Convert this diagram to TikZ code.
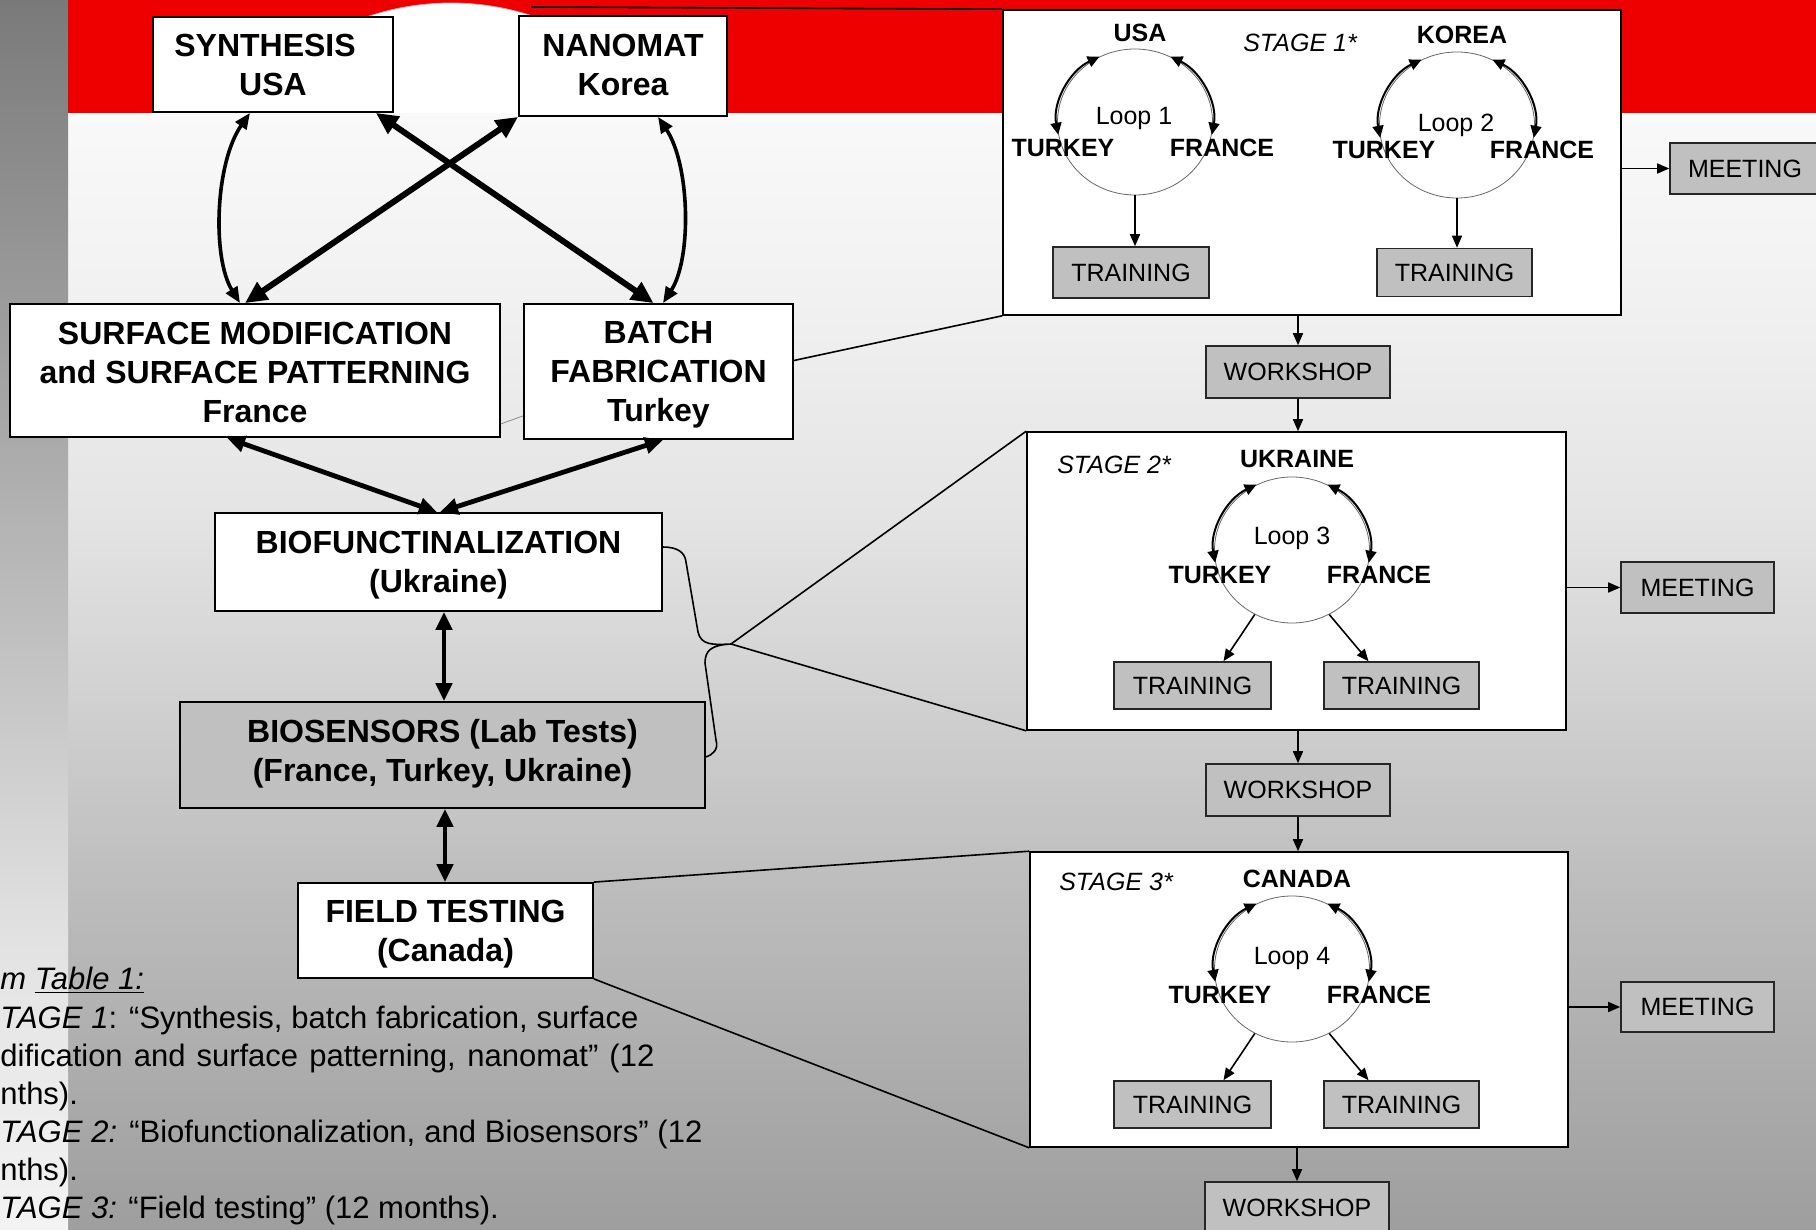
\documentclass[tikz,border=0pt]{standalone}
\usepackage{fontspec}
\setmainfont{Liberation Sans}
\usetikzlibrary{arrows.meta,calc,shapes.geometric}
\definecolor{bandred}{RGB}{238,0,0}
\definecolor{boxgray}{RGB}{192,192,192}
\pgfdeclareverticalshading{bgshade}{100bp}{color(0bp)=(black!38); color(25bp)=(black!38); color(40bp)=(black!26.3); color(45bp)=(black!21.6); color(57bp)=(black!10.6); color(67.5bp)=(black!5.1); color(75bp)=(black!2.4); color(100bp)=(black!2.4)}
\pgfdeclareverticalshading{stripshade}{100bp}{color(0bp)=(black!4.7); color(25bp)=(black!4.7); color(36.4bp)=(black!11); color(56.3bp)=(black!32.5); color(75bp)=(black!52.2); color(100bp)=(black!52.2)}
\begin{document}
\begin{tikzpicture}[x=0.5pt,y=-0.5pt,
  sz/.style 2 args={minimum width=#1*0.5pt, minimum height=#2*0.5pt},
  mainbox/.style={draw=black, line width=0.9pt, fill=white, inner sep=0pt},
  boxtext/.style={align=center, inner sep=0pt, font=\fontsize{16}{19.5}\selectfont\bfseries},
  stagebox/.style={draw=black, line width=0.8pt, fill=white, inner sep=0pt},
  graybox/.style={draw=black!85, line width=0.8pt, fill=boxgray, inner sep=0pt,
    font=\fontsize{12.5}{15}\selectfont},
  loopring/.style={ellipse, draw=black!60, line width=0.4pt, inner sep=0pt},
  lbl/.style={inner sep=0pt, font=\fontsize{12.5}{15}\selectfont\bfseries},
  looplbl/.style={inner sep=0pt, font=\fontsize{12.5}{15}\selectfont},
  stagelbl/.style={inner sep=0pt, font=\fontsize{12.5}{15}\selectfont\itshape},
  note/.style={inner sep=0pt, anchor=base west, font=\fontsize{15.5}{19}\selectfont},
  xarrow/.style={line width=3pt, {Triangle[length=11pt,width=10pt]}-{Triangle[length=11pt,width=10pt]}},
  carrow/.style={line width=1.8pt, {Triangle[length=8pt,width=6.5pt]}-{Triangle[length=8pt,width=6.5pt]}},
  marrow/.style={line width=2.4pt, {Triangle[length=9pt,width=8pt]}-{Triangle[length=9pt,width=8pt]}},
  tarrow/.style={line width=0.8pt, -{Triangle[length=6pt,width=5pt]}},
  looparrow/.style={line width=1pt, {Triangle[length=6pt,width=5.5pt]}-{Triangle[length=6pt,width=5.5pt]}},
  callout/.style={draw=black, line width=0.8pt}
]
\useasboundingbox (0,0) rectangle (1816,1230);
% background
\shade[shading=bgshade] (68,113) rectangle (1816,1230);
\shade[shading=stripshade] (0,0) rectangle (68,1230);
\fill[bandred] (68,0) rectangle (1816,113);
\coordinate (topstart) at (531,7);
\begin{scope}
  \clip (68,0) rectangle (1816,113);
  \filldraw[fill=white, draw=black!30, line width=0.4pt] (451,263) circle[radius=260];
\end{scope}

% main boxes
\node[mainbox, sz={240}{95}] (syn) at (273,64.5) {};
\node[mainbox, sz={208}{100}] (nano) at (623,66) {};
\node[mainbox, sz={490}{133}] (surf) at (255,370.5) {};
\node[mainbox, sz={269}{135}] (batch) at (658.5,371.5) {};
\node[mainbox, sz={447}{98}] (bio) at (438.5,562) {};
\node[mainbox, fill=boxgray, sz={525}{106}] (sens) at (442.5,755) {};
\node[mainbox, sz={295}{95}] (field) at (445.5,930.5) {};
\node[boxtext] (synT) at ($(syn)+(0,0)$) {SYNTHESIS\rule{8pt}{0pt}\\USA};
\node[boxtext] (nanoT) at ($(nano)+(0,-1.2)$) {NANOMAT\\Korea};
\node[boxtext] (surfT) at ($(surf)+(0,1.7)$) {SURFACE MODIFICATION\\and SURFACE PATTERNING\\France};
\node[boxtext] (batchT) at ($(batch)+(0,3.5)$) {BATCH\\FABRICATION\\Turkey};
\node[boxtext] (bioT) at ($(bio)+(0,2.9)$) {BIOFUNCTINALIZATION\\(Ukraine)};
\node[boxtext] (sensT) at ($(sens)+(0,-1.7)$) {BIOSENSORS (Lab Tests)\\(France, Turkey, Ukraine)};
\node[boxtext] (fieldT) at ($(field)+(0,4.1)$) {FIELD TESTING\\(Canada)};
% faint outline piece between the two middle boxes
\draw[black!45, line width=0.4pt] ($(surf.south east)+(0,-14)$) -- ($(batch.south west)+(0,-24)$);

% stage boxes
\node[stagebox, sz={618}{305}] (s1) at (1312,162.5) {};
\node[stagebox, sz={539}{298}] (s2) at (1296.5,581) {};
\node[stagebox, sz={538}{295}] (s3) at (1299,999.5) {};

% gray boxes
\node[graybox, sz={156}{51}] (t1) at (1131,272.5) {TRAINING};
\node[graybox, sz={155}{48}] (t2) at (1454.5,272.5) {TRAINING};
\node[graybox, sz={157}{47}] (t3a) at (1192.5,685.5) {TRAINING};
\node[graybox, sz={155}{47}] (t3b) at (1401.5,685.5) {TRAINING};
\node[graybox, sz={157}{47}] (t4a) at (1192.5,1104.5) {TRAINING};
\node[graybox, sz={155}{47}] (t4b) at (1401.5,1104.5) {TRAINING};
\node[graybox, sz={150}{51}] (m1) at (1745,168.5) {MEETING};
\node[graybox, sz={153}{51}] (m2) at (1697.5,587.5) {MEETING};
\node[graybox, sz={153}{50}] (m3) at (1697.5,1007) {MEETING};
\node[graybox, sz={184}{52}] (w1) at (1298,372) {WORKSHOP};
\node[graybox, sz={184}{52}] (w2) at (1298,790) {WORKSHOP};
\node[graybox, sz={184}{52}] (w3) at (1297,1208) {WORKSHOP};

% loop rings
\node[loopring, sz={155}{146}] (L1) at (1135,122) {};
\node[loopring, sz={155}{146}] (L2) at (1457,125) {};
\node[loopring, sz={155}{146}] (L3) at (1292,550) {};
\node[loopring, sz={155}{146}] (L4) at (1292,969) {};
\foreach \L in {L1,L2,L3,L4}{
  \draw[looparrow] ($(\L.center)+(-117:78 and 73.5)$) arc[start angle=-117, end angle=-190, x radius=78, y radius=73.5];
  \draw[looparrow] ($(\L.center)+(-63:78 and 73.5)$) arc[start angle=-63, end angle=10, x radius=78, y radius=73.5];
}

% stage 1 labels
\node[lbl] (a1) at (1140,33) {USA};
\node[stagelbl] (st1) at (1300,43) {STAGE 1*};
\node[lbl] (a2) at (1462,35) {KOREA};
\node[looplbl] (lp1) at (1134,118) {Loop 1};
\node[lbl] (tk1) at (1063,148) {TURKEY};
\node[lbl] (fr1) at (1222,148) {FRANCE};
\node[looplbl] (lp2) at (1456,125) {Loop 2};
\node[lbl] (tk2) at (1384,150) {TURKEY};
\node[lbl] (fr2) at (1542,150) {FRANCE};
% stage 2 labels
\node[stagelbl] (st2) at (1114,465) {STAGE 2*};
\node[lbl] (a3) at (1297,459) {UKRAINE};
\node[looplbl] (lp3) at (1292,538) {Loop 3};
\node[lbl] (tk3) at (1220,575) {TURKEY};
\node[lbl] (fr3) at (1379,575) {FRANCE};
% stage 3 labels
\node[stagelbl] (st3) at (1116,882) {STAGE 3*};
\node[lbl] (a4) at (1297,879) {CANADA};
\node[looplbl] (lp4) at (1292,958) {Loop 4};
\node[lbl] (tk4) at (1220,995) {TURKEY};
\node[lbl] (fr4) at (1379,995) {FRANCE};

% loop -> training
\draw[tarrow] (L1.south) -- (L1.south |- t1.north);
\draw[tarrow] (L2.south) -- (L2.south |- t2.north);
\draw[tarrow] (L3.240) -- ($(t3a.north)+(31,0)$);
\draw[tarrow] (L3.300) -- ($(t3b.north)+(-33,0)$);
\draw[tarrow] (L4.240) -- ($(t4a.north)+(31,0)$);
\draw[tarrow] (L4.300) -- ($(t4b.north)+(-33,0)$);

% stage flow
\draw[tarrow] (s1.east |- m1.west) -- (m1.west);
\draw[tarrow] (w1.north |- s1.south) -- (w1.north);
\draw[tarrow] (w1.south) -- (w1.south |- s2.north);
\draw[tarrow] (s2.east |- m2.west) -- (m2.west);
\draw[tarrow] (w2.north |- s2.south) -- (w2.north);
\draw[tarrow] (w2.south) -- (w2.south |- s3.north);
\draw[tarrow] (s3.east |- m3.west) -- (m3.west);
\draw[tarrow] (w3.north |- s3.south) -- (w3.north);

% callout lines
\draw[callout] (topstart) -- (s1.north west);
\draw[callout] ($(batch.east)+(0,-11)$) -- (s1.south west);
\coordinate (cusp) at (731,644);
\draw[callout] ($(bio.east)+(0,-15)$) .. controls +(14,0) and +(-1,-10) .. (686,562) -- (698,632)
  .. controls (701,645) and (712,645) .. (cusp)
  .. controls (712,645) and (705,650) .. (705,663) -- (716,740)
  .. controls (719,750) and (712,755) .. ($(sens.east)+(0,2)$);
\draw[callout] (cusp) -- (s2.north west);
\draw[callout] (cusp) -- (s2.south west);
\draw[callout] (field.north east) -- (s3.north west);
\draw[callout] (field.south east) -- (s3.south west);

% left arrows
\draw[xarrow] ($(syn.south east)+(-18,0)$) -- ($(batch.north)+(-5,0)$);
\draw[xarrow] (nano.south west) -- ($(surf.north)+(-10,0)$);
\draw[carrow] ($(syn.south)+(-23,0)$) .. controls +(-35,50) and +(-28,-45) .. ($(surf.north)+(-15,0)$);
\draw[carrow] ($(nano.south)+(35,0)$) .. controls +(32,48) and +(29,-45) .. ($(batch.north)+(4.5,0)$);
\draw[marrow] ($(surf.south)+(-28,0)$) -- ($(bio.north)+(-1.5,0)$);
\draw[marrow] ($(batch.south)+(4.5,0)$) -- ($(bio.north)+(1.5,0)$);
\draw[marrow] ($(bio.south)+(5.5,0)$) -- ($(sens.north)+(1.5,0)$);
\draw[marrow] ($(sens.south)+(2.5,0)$) -- ($(field.north)+(-0.5,0)$);

% notes
\node[note] (n1) at (0,989) {\itshape m \underline{Table 1:}};
\node[note] (n2) at (0,1028) {\makebox[319pt][s]{\textit{TAGE 1}: “Synthesis, batch fabrication, surface}};
\node[note] (n3) at (0,1066) {\makebox[327pt][s]{dification and surface patterning, nanomat” (12}};
\node[note] (n4) at (0,1104) {nths).};
\node[note] (n5) at (0,1142) {\makebox[351pt][s]{\textit{TAGE 2:} “Biofunctionalization, and Biosensors” (12}};
\node[note] (n6) at (0,1180) {nths).};
\node[note] (n7) at (0,1218) {\textit{TAGE 3:} “Field testing” (12 months).};
\end{tikzpicture}
\end{document}
